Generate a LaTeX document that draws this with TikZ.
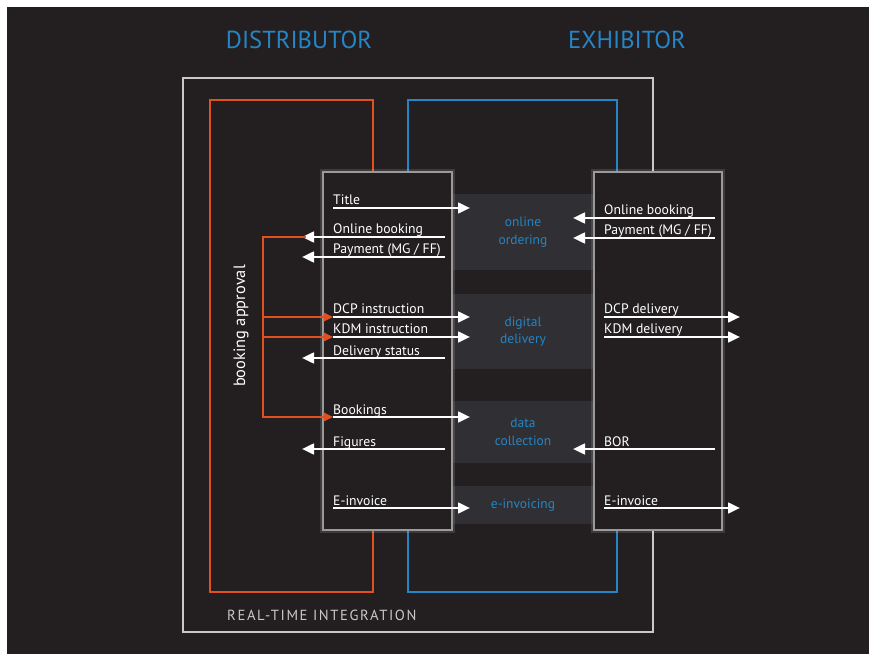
\documentclass[tikz,border=0pt]{standalone}
\usepackage{fontspec}
\setmainfont{PT Sans}
\newfontfamily\spacedSans[LetterSpace=11]{PT Sans}
\usepackage{xcolor}
\usetikzlibrary{positioning, arrows.meta}
\definecolor{sBack}{HTML}{231F20}
\definecolor{sBand}{HTML}{302F33}
\definecolor{sFrame}{HTML}{C9C9C9}
\definecolor{sBox}{HTML}{9A9A9A}
\definecolor{sOrange}{HTML}{E2501F}
\definecolor{sBlue}{HTML}{2585C6}

\begin{document}
\begin{tikzpicture}[x=0.03cm, y=-0.03cm,
  lbl/.style={anchor=base west, inner sep=0pt, text=white, font=\fontsize{11.7}{13}\selectfont},
  warrow/.style={draw=white, line width=2.2pt, -{Triangle[length=3.6mm, width=3.2mm]}},
  oarrow/.style={draw=sOrange, line width=1.8pt, -{Triangle[length=2.8mm, width=2.6mm]}},
  band/.style={fill=sBand, minimum width=4.26cm, align=center, text=sBlue, font=\fontsize{11.5}{15}\selectfont},
  sidebox/.style={draw=sBox, fill=sBack, line width=1.8pt, minimum height=10.74cm,
    preaction={draw=white, opacity=0.12, line width=5pt}},
  head/.style={text=sBlue, font=\fontsize{21}{24}\selectfont}]
  % page and background
  \fill[white] (0,0) rectangle (869,654);
  \fill[sBack] (7,7) rectangle (869,654);
  \useasboundingbox (0,0) rectangle (869,654);

  % frames
  \draw[sFrame, line width=1.6pt] (183,78) rectangle (653,632);
  \draw[sOrange, line width=1.8pt] (210,100) rectangle (373,592);
  \draw[sBlue, line width=1.8pt] (408,100) rectangle (617,592);

  % middle bands
  \node[band, minimum height=2.28cm] (ordr) at (523,232) {online\\ordering};
  \node[band, minimum height=2.25cm] (dlvr) at (523,331.5) {digital\\delivery};
  \node[band, minimum height=1.86cm] (coll) at (523,432) {data\\collection};
  \node[band, minimum height=1.14cm] (invc) at (523,505) {e-invoicing};

  % the two parties
  \node[sidebox, minimum width=3.87cm] (dist) at (387.5,351) {};
  \node[sidebox, minimum width=3.84cm] (exhi) at (658,351) {};

  \node[head] (distname) at (299,40) {DISTRIBUTOR};
  \node[head] (exhiname) at (627,40) {EXHIBITOR};
  \node[anchor=west, inner sep=0pt, text=sFrame, font=\spacedSans\fontsize{12.5}{14}\selectfont]
    (rti) at (227,615) {REAL-TIME INTEGRATION};
  \node[rotate=90, text=white, font=\fontsize{14}{16}\selectfont] (apprl) at (241,326) {booking approval};

  % distributor messages
  \foreach \txt/\yy/\xa/\xb [count=\i] in {Title/208/333/470, Online booking/237/445/302,
      {Payment (MG / FF)}/257/445/302, DCP instruction/317/333/470, KDM instruction/337/333/470,
      Delivery status/358/445/302, Bookings/417/333/470, Figures/449/445/302, E-invoice/508/333/470} {
    \coordinate (dA\i) at (\xa,\yy);
    \coordinate (dB\i) at (\xb,\yy);
    \draw[warrow] (dA\i) -- (dB\i);
    \node[lbl] (dL\i) at (333,\yy-3) {\txt};
  }

  % exhibitor messages
  \foreach \txt/\yy/\xa/\xb [count=\i] in {Online booking/218/715/573, {Payment (MG / FF)}/238/715/573,
      DCP delivery/317/604/740, KDM delivery/337/604/740, BOR/449/715/573, E-invoice/508/604/740} {
    \coordinate (eA\i) at (\xa,\yy);
    \coordinate (eB\i) at (\xb,\yy);
    \draw[warrow] (eA\i) -- (eB\i);
    \node[lbl] (eL\i) at (604,\yy-3) {\txt};
  }

  % booking approval loop
  \coordinate (apr) at (263,417);
  \draw[oarrow] ([xshift=3]dB2) -| (apr) -- (dA7);
  \draw[oarrow] (dA4 -| apr) -- (dA4);
  \draw[oarrow] (dA5 -| apr) -- (dA5);
\end{tikzpicture}
\end{document}
